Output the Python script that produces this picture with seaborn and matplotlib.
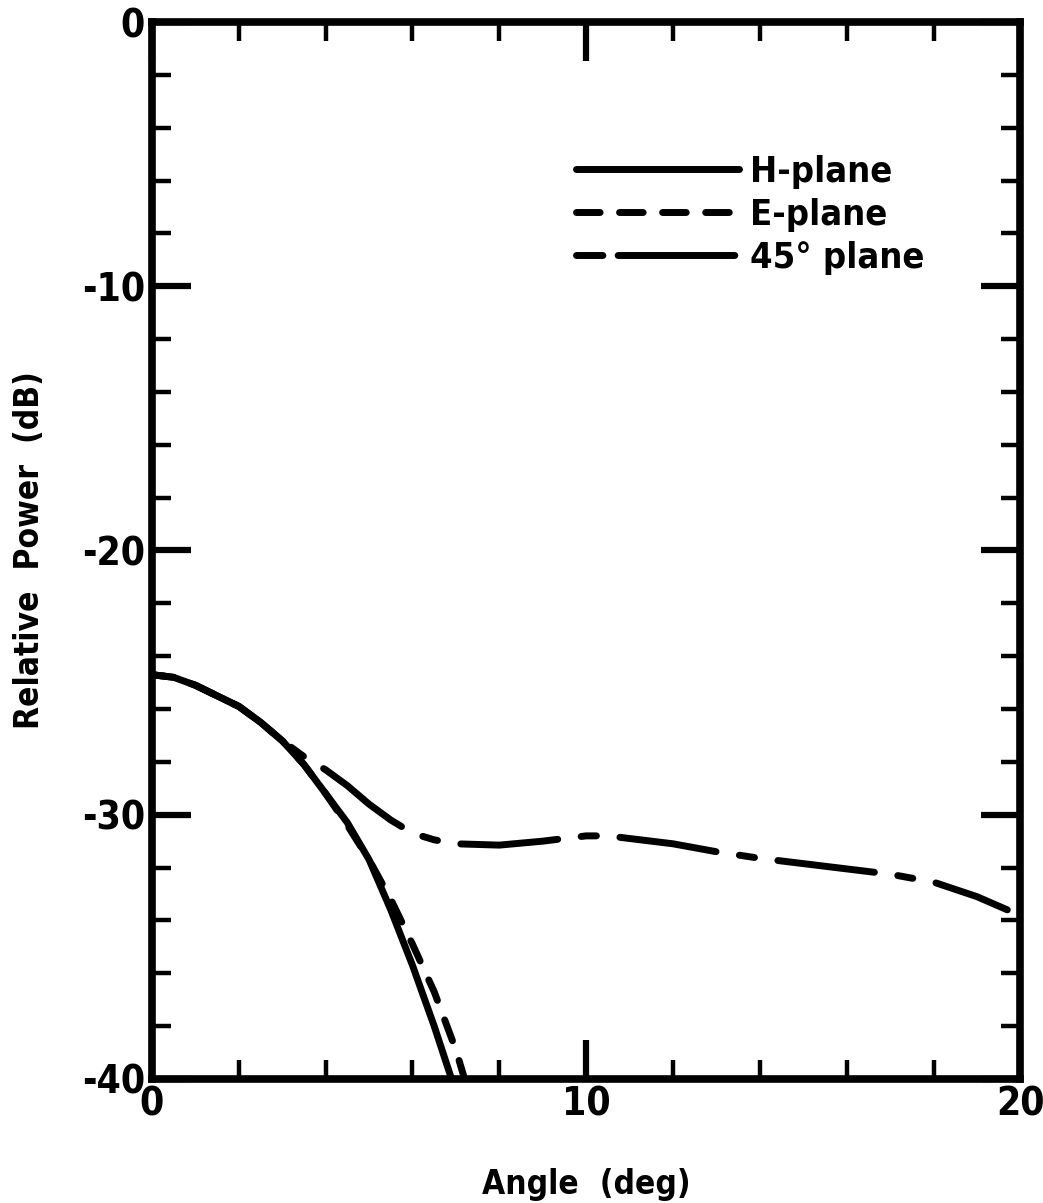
import matplotlib
matplotlib.use("Agg")
import matplotlib.pyplot as plt
import seaborn as sns
import pandas as pd
from matplotlib.ticker import MultipleLocator
from matplotlib.lines import Line2D

# ---- data ----
h_angle = [0, 0.5, 1.0, 1.5, 2.0, 2.5, 3.0, 3.5, 4.0, 4.5, 5.0, 5.5, 6.0, 6.5, 6.9]
h_db = [-24.7, -24.8, -25.1, -25.5, -25.9, -26.5, -27.2, -28.1, -29.2, -30.3, -31.7, -33.6, -35.7, -38.0, -40.0]

e_angle = [0, 0.5, 1.0, 1.5, 2.0, 2.5, 3.0, 3.5, 4.0, 4.5, 5.0, 5.5, 6.0, 6.5, 7.0, 7.2]
e_db = [-24.7, -24.8, -25.1, -25.5, -25.9, -26.5, -27.2, -28.1, -29.2, -30.4, -31.7, -33.2, -34.9, -36.7, -38.9, -40.0]

d45_angle = [0, 0.5, 1.0, 1.5, 2.0, 2.5, 3.0, 3.5, 4.0, 4.5, 5.0, 5.5, 6.0, 6.5, 7.0, 8.0,
             9.0, 10.0, 10.5, 11.0, 12.0, 13.0, 14.0, 15.0, 16.0, 17.0, 18.0, 19.0, 19.7]
d45_db = [-24.7, -24.8, -25.1, -25.5, -25.9, -26.5, -27.2, -27.8, -28.3, -28.9, -29.6, -30.2,
          -30.7, -30.95, -31.1, -31.15, -31.0, -30.8, -30.8, -30.9, -31.1, -31.4, -31.65,
          -31.85, -32.05, -32.25, -32.55, -33.1, -33.6]

series_names = ["H-plane", "E-plane", "45° plane"]
x_ticks = [0, 10, 20]
y_ticks = [0, -10, -20, -30, -40]

df = pd.concat([
    pd.DataFrame({"Angle": h_angle, "Power": h_db, "plane": series_names[0]}),
    pd.DataFrame({"Angle": e_angle, "Power": e_db, "plane": series_names[1]}),
    pd.DataFrame({"Angle": d45_angle, "Power": d45_db, "plane": series_names[2]}),
], ignore_index=True)

# ---- style ----
sns.set_style("ticks")
plt.rcParams["font.family"] = ["DejaVu Sans"]
plt.rcParams["font.stretch"] = "condensed"
plt.rcParams["font.weight"] = "bold"
plt.rcParams["axes.labelweight"] = "bold"
plt.rcParams["lines.scale_dashes"] = False
for k in ["text.color", "axes.labelcolor", "xtick.color", "ytick.color", "axes.edgecolor"]:
    plt.rcParams[k] = "black"

LW = 5.0
fig = plt.figure(figsize=(10.43, 12.03), dpi=100)
ax = fig.add_axes([0.1457, 0.1031, 0.8326, 0.8786])

dashes = {series_names[0]: "", series_names[1]: (16, 15), series_names[2]: (11, 17, 70, 17)}
sns.lineplot(data=df, x="Angle", y="Power", style="plane", dashes=dashes,
             color="black", linewidth=LW, sort=False, estimator=None, ax=ax,
             style_order=series_names, legend=False)
for ln in ax.lines:
    ln.set_solid_capstyle("round")
    ln.set_dash_capstyle("round")
    ln.set_solid_joinstyle("round")

ax.set_xlim(0, 20)
ax.set_ylim(-40, 0)
ax.set_xticks(x_ticks)
ax.set_yticks(y_ticks)
ax.set_xticklabels([str(v) for v in x_ticks])
ax.set_yticklabels([str(v) for v in y_ticks])
ax.xaxis.set_minor_locator(MultipleLocator(2))
ax.yaxis.set_minor_locator(MultipleLocator(2))
ax.tick_params(which="both", direction="in", top=True, right=True)
ax.tick_params(which="major", length=28, width=4.5, labelsize=28, pad=5)
ax.tick_params(which="minor", length=14, width=3.2)
for s in ax.spines.values():
    s.set_linewidth(5.5)
    s.set_visible(True)

ax.set_xlabel("Angle  (deg)", fontsize=24, labelpad=32)
ax.set_ylabel("Relative  Power  (dB)", fontsize=24, labelpad=26)

# legend
handles = [Line2D([], [], color="black", lw=LW, solid_capstyle="round"),
           Line2D([], [], color="black", lw=LW, linestyle=(0, (17, 14)), dash_capstyle="round"),
           Line2D([], [], color="black", lw=LW, linestyle=(0, (19, 11, 84, 100)), dash_capstyle="round")]
leg = ax.legend(handles, series_names, loc="upper right", bbox_to_anchor=(0.906, 0.888),
                frameon=False, fontsize=26, handlelength=4.5, handletextpad=0.3,
                labelspacing=0.25, borderaxespad=0)

fig.savefig("out.png", dpi=100, facecolor="white")
